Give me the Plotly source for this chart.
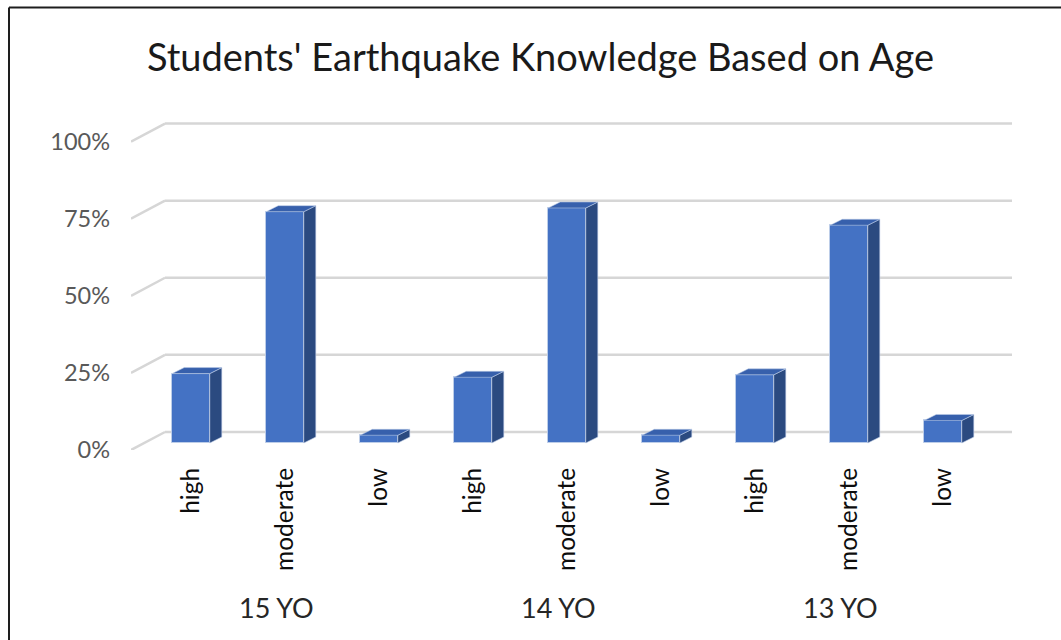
import plotly.graph_objects as go

# ---- data -------------------------------------------------------------
age_groups = ["15 YO", "14 YO", "13 YO"]
levels = ["high", "moderate", "low"]
share_15 = [22.5, 75.0, 2.5]   # % of students
share_14 = [21.3, 76.2, 2.5]
share_13 = [22.1, 70.6, 7.3]
y_ticks = [0, 25, 50, 75, 100]
y_tick_labels = ["0%", "25%", "50%", "75%", "100%"]

# ---- figure geometry (pixels) -----------------------------------------
W, H = 1061, 640
PLOT_L, PLOT_R, PLOT_B = 131, 1012, 450
PX_PER_CAT = 94.0          # horizontal pixels per category slot
PX_PER_PCT = 3.08          # vertical pixels per percentage point
Y_MAX = 107.0
PLOT_T = PLOT_B - Y_MAX * PX_PER_PCT
X_MIN = -0.5
X_MAX = X_MIN + (PLOT_R - PLOT_L) / PX_PER_CAT

# pseudo-3D offsets, converted to data units
FLOOR_DX, FLOOR_DY = 34 / PX_PER_CAT, 18 / PX_PER_PCT      # back wall offset
BAR_DX0, BAR_DY0 = 13 / PX_PER_CAT, 7 / PX_PER_PCT         # bar front plane
BAR_DEPTH_X, BAR_DEPTH_Y = 12 / PX_PER_CAT, 6 / PX_PER_PCT  # bar depth
BAR_W = 0.40

FRONT = "#4472C4"
SIDE = "#2B4A80"
TOP = "#3760AC"
EDGE = "rgba(190,205,232,0.95)"
GRID = "#D6D6D6"
FONT = "Lato"

values = share_15 + share_14 + share_13
labels = levels * len(age_groups)
slots = list(range(len(values)))
centers = [s + BAR_DX0 for s in slots]

fig = go.Figure()

# front faces
fig.add_trace(go.Bar(
    x=centers, y=values, base=[BAR_DY0] * len(values), width=BAR_W,
    marker=dict(color=FRONT, line=dict(color=EDGE, width=1)),
    customdata=labels, hovertemplate="%{customdata}: %{y:.1f}%<extra></extra>",
    showlegend=False,
))

# side and top faces derived from each bar's value
for c, v in zip(centers, values):
    x0, x1 = c - BAR_W / 2, c + BAR_W / 2
    b, t = BAR_DY0, BAR_DY0 + v
    fig.add_trace(go.Scatter(
        x=[x1, x1 + BAR_DEPTH_X, x1 + BAR_DEPTH_X, x1, x1],
        y=[b, b + BAR_DEPTH_Y, t + BAR_DEPTH_Y, t, b],
        mode="lines", fill="toself", fillcolor=SIDE,
        line=dict(color=EDGE, width=0.6), hoverinfo="skip", showlegend=False,
    ))
    fig.add_trace(go.Scatter(
        x=[x0, x1, x1 + BAR_DEPTH_X, x0 + BAR_DEPTH_X, x0],
        y=[t, t, t + BAR_DEPTH_Y, t + BAR_DEPTH_Y, t],
        mode="lines", fill="toself", fillcolor=TOP,
        line=dict(color=EDGE, width=0.6), hoverinfo="skip", showlegend=False,
    ))

# gridlines: short diagonal from the front plane, then along the back wall
shapes = []
for t in y_ticks:
    shapes.append(dict(type="line", xref="x", yref="y", layer="below",
                       x0=X_MIN, y0=t, x1=X_MIN + FLOOR_DX, y1=t + FLOOR_DY,
                       line=dict(color=GRID, width=2.5)))
    shapes.append(dict(type="line", xref="x", yref="y", layer="below",
                       x0=X_MIN + FLOOR_DX, y0=t + FLOOR_DY, x1=X_MAX, y1=t + FLOOR_DY,
                       line=dict(color=GRID, width=2.5)))

# chart frame (top and left edges)
def px_to_paper_x(px):
    return (px - PLOT_L) / (PLOT_R - PLOT_L)

def px_to_paper_y(py):
    return (PLOT_B - py) / (PLOT_B - PLOT_T)

shapes.append(dict(type="line", xref="paper", yref="paper",
                   x0=px_to_paper_x(9), y0=px_to_paper_y(8),
                   x1=px_to_paper_x(W + 5), y1=px_to_paper_y(8),
                   line=dict(color="#1E1E1E", width=2)))
shapes.append(dict(type="line", xref="paper", yref="paper",
                   x0=px_to_paper_x(9), y0=px_to_paper_y(8),
                   x1=px_to_paper_x(9), y1=px_to_paper_y(H + 5),
                   line=dict(color="#1E1E1E", width=2)))

# age-group labels under each triple of bars
annotations = []
for g, name in enumerate(age_groups):
    annotations.append(dict(
        text=name, x=g * 3 + 1 + 0.05, y=px_to_paper_y(607),
        xref="x", yref="paper", xanchor="center", yanchor="middle",
        showarrow=False, font=dict(family=FONT, size=27, color="#262626"),
    ))

fig.update_layout(
    width=W, height=H,
    paper_bgcolor="white", plot_bgcolor="white",
    margin=dict(l=PLOT_L, r=W - PLOT_R, t=PLOT_T, b=H - PLOT_B, pad=0),
    title=dict(text="Students' Earthquake Knowledge Based on Age",
               x=540.5 / W, xref="container", xanchor="center",
               y=1 - 58 / H, yref="container", yanchor="middle",
               font=dict(family=FONT, size=38, color="#1A1A1A")),
    xaxis=dict(range=[X_MIN, X_MAX], tickvals=centers, ticktext=labels,
               tickangle=-90, ticks="", showgrid=False, zeroline=False,
               showline=False, ticklabelstandoff=12,
               tickfont=dict(family=FONT, size=24.5, color="#0D0D0D")),
    yaxis=dict(range=[0, Y_MAX], tickvals=y_ticks, ticktext=y_tick_labels,
               ticks="", showgrid=False, zeroline=False, showline=False,
               ticklabelstandoff=20,
               tickfont=dict(family=FONT, size=23.5, color="#595959")),
    shapes=shapes,
    annotations=annotations,
    bargap=0,
)

fig.write_html("out.html")
